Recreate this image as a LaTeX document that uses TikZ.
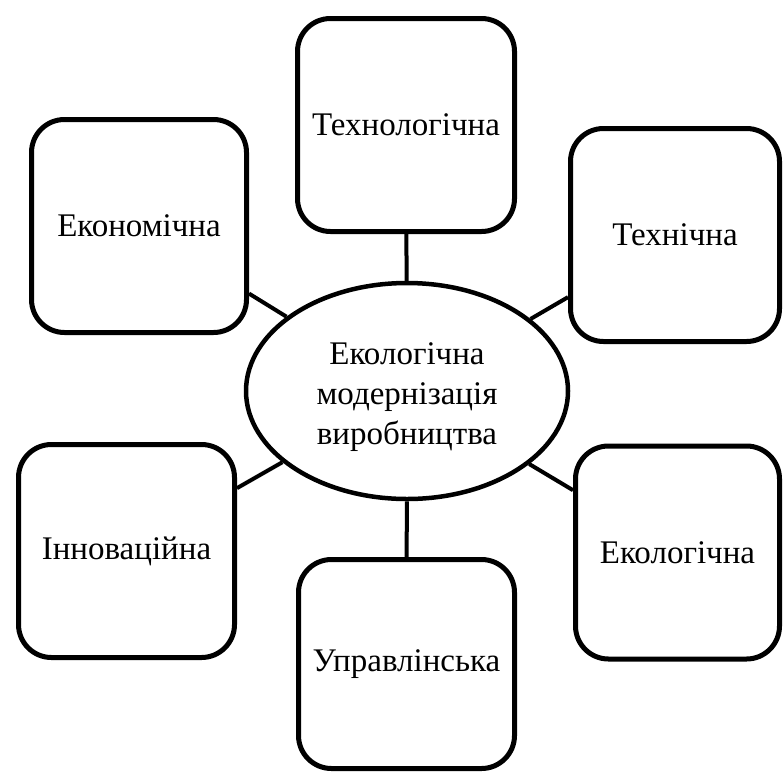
\documentclass[tikz,border=0pt]{standalone}
\usepackage{fontspec}
\setmainfont{Liberation Serif}
\usetikzlibrary{shapes.geometric, positioning}

\begin{document}
\begin{tikzpicture}[
    x=1pt, y=-1pt,
    font=\fontsize{33}{40}\selectfont,
    line width=5pt,
    aspect/.style={rectangle, draw, rounded corners=33pt, minimum width=#1, minimum height=213pt, align=center, inner sep=0pt},
    aspect/.default=216pt,
    core/.style={ellipse, draw, line width=4.5pt, minimum width=322pt, minimum height=216pt, align=center, inner sep=0pt, text height=115pt},
    link/.style={line width=4pt},
]
    \useasboundingbox (0,0) rectangle (783,771);

    % Centre
    \node[core] (modern) at (407,391) {Екологічна\\модернізація\\виробництва};

    % Aspects around it
    \node[aspect=217pt] (tech) at (406,125) {Технологічна};
    \node[aspect=215pt] (econ) at (139,226) {Економічна};
    \node[aspect=209pt] (techn) at (675,235) {Технічна};
    \node[aspect] (innov) at (126.5,551) {Інноваційна};
    \node[aspect, minimum height=209pt] (mgmt) at (406.5,664) {Управлінська};
    \node[aspect=204pt] (ecol) at (677.5,552.5) {Екологічна};

    \foreach \part in {tech, econ, techn, innov, mgmt, ecol}
        \draw[link] (modern) -- (\part);
\end{tikzpicture}
\end{document}
